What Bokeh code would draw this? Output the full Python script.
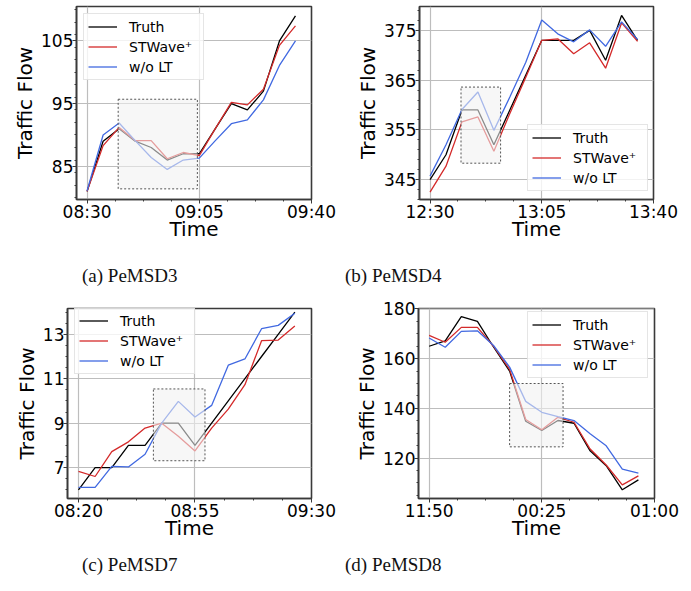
from bokeh.plotting import figure
from bokeh.models import Range1d, FixedTicker, Div
from bokeh.layouts import column, row
from bokeh.embed import file_html
from bokeh.resources import INLINE

# ---------------- data ----------------
minutes = [0, 5, 10, 15, 20, 25, 30, 35, 40, 45, 50, 55, 60, 65]
series_names = ["Truth", "STWave\u207a", "w/o LT"]

truth3 = [81, 89, 91, 89, 88, 86, 87, 87, 91, 95, 94, 97, 105, 109]
stw3 = [81, 88.3, 91.2, 89.1, 89.1, 86.2, 87.2, 86.7, 91.0, 95.2, 94.8, 97.3, 104.3, 107.4]
wolt3 = [81.1, 90.0, 91.9, 89.1, 86.4, 84.5, 86.0, 86.3, 89.1, 91.8, 92.4, 95.6, 101.1, 105.0]

truth4 = [345, 350, 359, 359, 352, 359, 366, 373, 373, 373, 375, 369, 378, 373]
stw4 = [342.5, 347.7, 356.6, 357.6, 350.7, 358.3, 365.6, 373.0, 373.3, 370.3, 372.5, 367.4, 376.5, 372.8]
wolt4 = [345.7, 352.0, 359.1, 362.6, 354.9, 361.6, 368.6, 377.1, 374.3, 372.7, 375.1, 371.8, 376.7, 373.2]

truth7 = [6, 7, 7, 8, 8, 9, 9, 8, 9, 10, 11, 12, 13, 14]
stw7 = [6.83, 6.6, 7.72, 8.16, 8.78, 9.0, 8.41, 7.75, 8.78, 9.63, 10.73, 12.71, 12.74, 13.37]
wolt7 = [6.11, 6.11, 7.06, 7.03, 7.6, 9.0, 9.98, 9.28, 9.8, 11.61, 11.89, 13.25, 13.4, 13.95]

truth8 = [165.0, 167.2, 176.9, 175.0, 164.7, 155.0, 134.8, 131.1, 135.1, 134.0, 122.9, 116.9, 107.2, 111.2]
stw8 = [169.4, 166.6, 172.6, 172.6, 165.0, 155.7, 135.5, 131.4, 136.4, 134.4, 123.6, 117.2, 109.2, 112.8]
wolt8 = [168.3, 164.6, 171.0, 171.2, 165.3, 156.6, 142.8, 138.4, 136.7, 135.1, 129.8, 124.9, 115.5, 113.9]

# tick positions (minutes) and labels
xtick_pos = [0, 35, 70]
xminor_pos = [8.75, 17.5, 26.25, 43.75, 52.5, 61.25]
xlabels3 = ["08:30", "09:05", "09:40"]
xlabels4 = ["12:30", "13:05", "13:40"]
xlabels7 = ["08:20", "08:55", "09:30"]
xlabels8 = ["11:50", "00:25", "01:00"]

yticks3 = [85, 95, 105]
yticks4 = [345, 355, 365, 375]
yticks7 = [7, 9, 11, 13]
yticks8 = [120, 140, 160, 180]
yminor3 = [80 + 2 * i for i in range(16)]
yminor4 = [341 + 2 * i for i in range(20)]
yminor7 = [5.5 + 0.5 * i for i in range(18)]
yminor8 = [105 + 5 * i for i in range(16)]

# highlighted (zoom) windows: [left, right, bottom, top]
hl3 = [9.7, 34.4, 81.4, 95.7]
hl4 = [9.7, 22.1, 348.3, 363.6]
hl7 = [22.5, 38.0, 7.31, 10.54]
hl8 = [25.0, 41.6, 124.5, 150.0]

captions = ["(a) PeMSD3", "(b) PeMSD4", "(c) PeMSD7", "(d) PeMSD8"]

COLORS = ["#000000", "#d42a2a", "#4169e1"]
SANS = "DejaVu Sans"
FRAME = "#3a3a3a"


def make_panel(truth, stw, wolt, xlabels, yticks, yminor, xr, yr, hl, legend_loc,
               W, H, bl, br, bt, bb):
    p = figure(width=W, height=H, x_range=Range1d(*xr), y_range=Range1d(*yr),
               output_backend="svg", toolbar_location=None,
               min_border_left=bl, min_border_right=br,
               min_border_top=bt, min_border_bottom=bb)
    p.background_fill_color = "white"
    p.border_fill_color = "white"
    p.outline_line_color = FRAME
    p.outline_line_width = 1.6

    for ys, name, col in zip([truth, stw, wolt], series_names, COLORS):
        p.line(minutes, ys, line_color=col, line_width=1.3, legend_label=name)

    p.quad(left=[hl[0]], right=[hl[1]], bottom=[hl[2]], top=[hl[3]],
           fill_color="#f2f2f2", fill_alpha=0.58, line_color="#555555",
           line_dash="2 2", line_width=1)

    p.xaxis.ticker = FixedTicker(ticks=xtick_pos, minor_ticks=xminor_pos)
    p.xaxis.major_label_overrides = {t: l for t, l in zip(xtick_pos, xlabels)}
    p.yaxis.ticker = FixedTicker(ticks=yticks, minor_ticks=yminor)

    p.xaxis.axis_label = "Time"
    p.yaxis.axis_label = "Traffic Flow"
    for ax in (p.xaxis, p.yaxis):
        ax.axis_label_text_font = SANS
        ax.axis_label_text_font_size = "20px"
        ax.axis_label_text_font_style = "normal"
        ax.axis_label_text_color = "#000000"
        ax.major_label_text_font = SANS
        ax.major_label_text_font_size = "17px"
        ax.major_label_text_color = "#000000"
        ax.axis_line_color = FRAME
        ax.axis_line_width = 1.6
        ax.major_tick_line_color = FRAME
        ax.minor_tick_line_color = FRAME
        ax.major_tick_in = 0
        ax.major_tick_out = 4
        ax.minor_tick_in = 0
        ax.minor_tick_out = 2
    p.xaxis.major_label_standoff = -2
    p.xaxis.axis_label_standoff = -8
    p.yaxis.major_label_standoff = -1
    p.yaxis.axis_label_standoff = 1

    p.grid.grid_line_color = "#bdbdbd"
    p.grid.grid_line_width = 1.2
    p.xgrid.ticker = FixedTicker(ticks=xtick_pos)
    p.ygrid.ticker = FixedTicker(ticks=yticks)

    lg = p.legend[0]
    lg.location = legend_loc
    lg.label_text_font = SANS
    lg.label_text_font_size = "14px"
    lg.label_text_color = "#000000"
    lg.glyph_width = 29
    lg.glyph_height = 17
    lg.label_height = 17
    lg.label_width = 70
    lg.label_standoff = 12
    lg.spacing = 3
    lg.padding = 4
    lg.margin = 0
    lg.border_line_color = "#cccccc"
    lg.border_line_width = 1
    lg.background_fill_color = "white"
    lg.background_fill_alpha = 0.8
    return p


# legend location = (x, y) of the legend's bottom-left corner, from the frame's bottom-left
pa = make_panel(truth3, stw3, wolt3, xlabels3, yticks3, yminor3, (-3.3, 70), (79.7, 110.5),
                hl3, (7, 119), 345, 250, 76, 34, 6, 51)
pb = make_panel(truth4, stw4, wolt4, xlabels4, yticks4, yminor4, (-3.3, 70), (341.0, 379.8),
                hl4, (108, 8), 346, 250, 74, 38, 6, 51)
pc = make_panel(truth7, stw7, wolt7, xlabels7, yticks7, yminor7, (-3.3, 70), (5.61, 14.16),
                hl7, (7, 124), 345, 254, 67, 34, 9, 51)
pd = make_panel(truth8, stw8, wolt8, xlabels8, yticks8, yminor8, (-3.3, 70), (103.7, 180.2),
                hl8, (109, 120), 346, 254, 73, 37, 13, 49)


def caption(text, w, h, left, top):
    html = ('<div style="padding-left:%dpx;padding-top:%dpx;white-space:nowrap;'
            "font-family:'Liberation Serif';font-size:19px;line-height:19px;color:#111111;\">"
            '%s</div>') % (left, top, text)
    return Div(text=html, width=w, height=h, margin=0)


cap_row1 = row(caption(captions[0], 345, 45, 82, 16), caption(captions[1], 346, 45, 342 - 345, 16), spacing=0)
cap_row2 = row(caption(captions[2], 345, 42, 82, 6), caption(captions[3], 346, 42, 342 - 345, 6), spacing=0)

layout = column(row(pa, pb, spacing=0), cap_row1, row(pc, pd, spacing=0), cap_row2, spacing=0)

open("out.html", "w").write(file_html(layout, INLINE))
